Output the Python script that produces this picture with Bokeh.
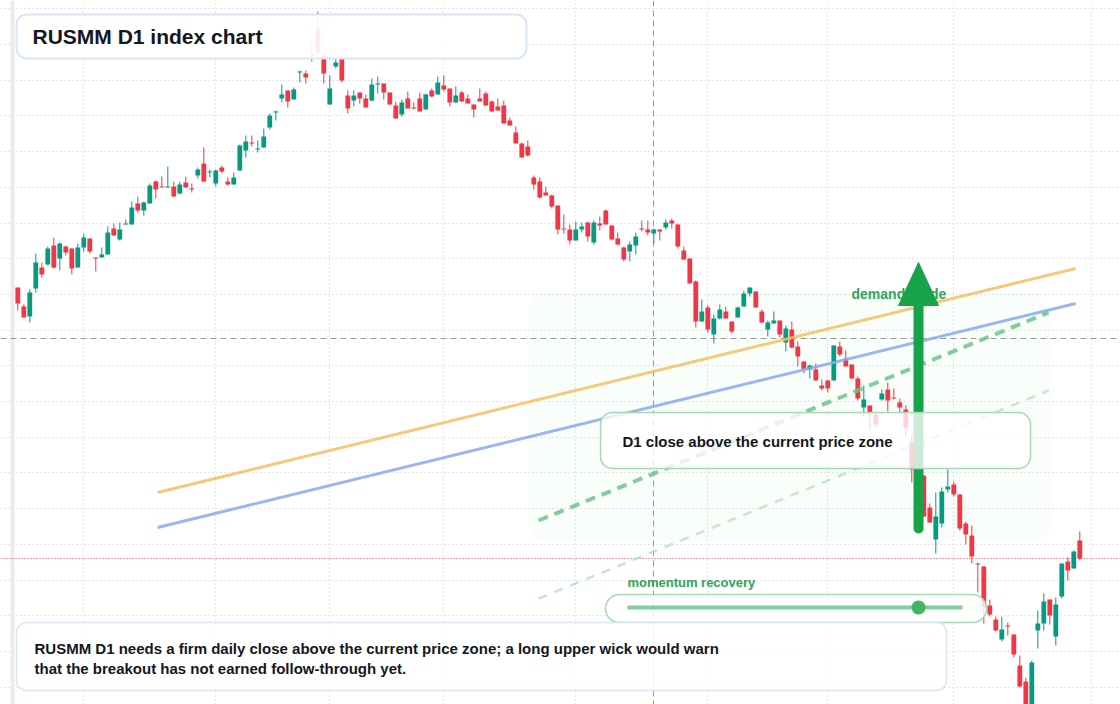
import numpy as np
import pandas as pd
from bokeh.plotting import figure
from bokeh.models import Range1d, FixedTicker, BoxAnnotation, Label, ColumnDataSource
from bokeh.core.properties import value
from bokeh.embed import file_html
from bokeh.resources import INLINE

# daily candles (index points)
opens = [713, 694, 684, 712, 733, 736, 755, 742, 754, 752, 733, 753, 762, 743, 743, 746, 772, 761, 776, 776,
         797, 790, 797, 819, 814, 813, 814, 807, 818, 812, 825, 837, 828, 817, 833, 819, 816, 830, 850, 858,
         851, 853, 873, 888, 902, 910, 901, 928, 927, 946, 972, 945, 896, 934, 943, 905, 900, 908, 902, 900,
         916, 917, 908, 895, 886, 902, 893, 902, 891, 910, 906, 915, 912, 898, 908, 902, 896, 902, 907, 899,
         894, 895, 880, 868, 857, 854, 823, 819, 808, 805, 795, 772, 771, 760, 771, 778, 758, 777, 790, 775,
         762, 753, 749, 755, 772, 771, 767, 771, 773, 780, 776, 750, 742, 719, 679, 693, 666, 682, 689, 679,
         683, 694, 707, 709, 689, 671, 677, 680, 658, 671, 654, 639, 631, 631, 615, 620, 620, 654, 642, 636,
         622, 593, 595, 586, 601, 611, 603, 598, 591, 558, 531, 525, 493, 461, 477, 511, 516, 506, 477, 465,
         437, 434, 395, 381, 361, 375, 366, 335, 319, 286, 370, 377, 401, 364, 404, 439, 432, 460]
highs = [713, 696, 711, 747, 738, 754, 763, 758, 755, 752, 757, 767, 762, 743, 753, 774, 777, 778, 781, 799,
         804, 799, 817, 820, 824, 834, 819, 819, 824, 817, 833, 853, 831, 831, 835, 823, 828, 856, 865, 865,
         860, 872, 887, 890, 916, 910, 913, 930, 930, 957, 989, 947, 925, 942, 950, 910, 910, 908, 906, 922,
         924, 917, 908, 899, 901, 909, 898, 908, 907, 912, 924, 925, 912, 914, 910, 906, 896, 912, 909, 900,
         902, 900, 883, 874, 858, 860, 825, 823, 814, 806, 795, 786, 776, 779, 778, 779, 780, 784, 791, 775,
         768, 754, 759, 768, 780, 780, 772, 771, 781, 782, 777, 754, 742, 720, 701, 695, 686, 696, 694, 679,
         694, 710, 713, 709, 691, 680, 689, 680, 675, 679, 659, 639, 636, 637, 621, 620, 655, 659, 650, 636,
         624, 615, 595, 588, 611, 618, 612, 602, 595, 566, 534, 525, 497, 508, 513, 531, 519, 506, 479, 475,
         438, 434, 401, 384, 384, 378, 366, 345, 323, 340, 390, 407, 401, 403, 437, 443, 450, 469]
lows = [690, 683, 678, 708, 723, 735, 732, 730, 745, 726, 733, 749, 747, 729, 743, 746, 765, 760, 776, 776,
        788, 785, 797, 802, 813, 813, 804, 806, 813, 808, 822, 819, 823, 814, 827, 815, 816, 830, 843, 854,
        848, 853, 871, 880, 898, 893, 901, 918, 917, 939, 947, 917, 896, 932, 918, 887, 894, 897, 893, 899,
        907, 901, 896, 882, 884, 892, 891, 889, 891, 903, 906, 909, 894, 898, 899, 897, 883, 899, 895, 889,
        890, 877, 875, 857, 843, 844, 811, 802, 805, 792, 766, 767, 756, 760, 768, 759, 756, 770, 776, 760,
        755, 739, 739, 746, 769, 765, 757, 760, 771, 772, 752, 741, 717, 673, 679, 668, 657, 681, 682, 667,
        683, 694, 704, 693, 677, 664, 677, 663, 649, 652, 634, 627, 622, 620, 610, 608, 620, 644, 634, 622,
        600, 584, 571, 573, 600, 589, 601, 588, 565, 518, 515, 484, 478, 447, 473, 508, 504, 470, 456, 437,
        408, 377, 384, 369, 359, 365, 343, 313, 284, 282, 352, 370, 376, 355, 402, 420, 432, 440]
closes = [697, 683, 708, 738, 726, 752, 733, 757, 748, 732, 753, 763, 749, 742, 746, 768, 765, 771, 777, 793,
          790, 798, 815, 811, 813, 814, 804, 816, 813, 811, 831, 819, 829, 830, 829, 816, 823, 855, 859, 857,
          852, 864, 885, 889, 906, 899, 911, 929, 923, 945, 948, 927, 912, 938, 920, 892, 905, 902, 893, 916,
          917, 908, 896, 882, 898, 892, 892, 889, 906, 904, 918, 911, 898, 905, 899, 897, 891, 899, 895, 889,
          890, 877, 875, 857, 843, 845, 816, 803, 805, 794, 771, 771, 760, 771, 774, 764, 778, 775, 776, 761,
          756, 741, 756, 764, 771, 768, 771, 769, 778, 777, 754, 741, 717, 679, 689, 671, 682, 691, 682, 669,
          693, 707, 713, 693, 678, 678, 680, 666, 672, 653, 644, 631, 635, 620, 612, 612, 655, 646, 634, 622,
          602, 601, 587, 576, 607, 600, 602, 593, 573, 531, 522, 484, 478, 484, 509, 514, 506, 472, 466, 444,
          436, 394, 386, 370, 371, 374, 346, 314, 288, 338, 377, 399, 385, 396, 437, 430, 449, 442]

# month separators (candle index) and price grid levels
x_grid = [11, 33, 52, 71, 93, 115, 135, 156, 179]
y_grid = [991.7, 956.0, 920.3, 884.6, 848.9, 813.2, 777.5, 741.8, 706.1, 670.4,
          634.7, 599.0, 563.3, 527.6, 491.9, 456.2, 420.5, 384.8, 349.1, 313.4]

# drawn studies: (index, price) end points
orange_x, orange_y = [23.3, 176.3], [508, 732]
blue_x, blue_y = [23.3, 176.3], [473, 697]
dash_x, dash_y = [86.8, 171.8], [480, 688]
faint_x, faint_y = [86.8, 171.8], [402, 610]
zone = dict(left=85.0, right=172.1, top=707, bottom=460)
cross_x, cross_y = 106, 662
arrow_x, arrow_bottom, arrow_base, arrow_tip, arrow_half = 150.12, 472, 695, 738, 3.33
momentum_x, momentum_y, momentum_dot = [101.6, 157.45], 393, 150.12

GREEN = "#089981"
RED = "#f23645"
INK = "#131722"
LABEL_GREEN = "#2ea55a"
NOTE_BORDER = "#a3dab4"
INFO_BORDER = "#d8e6fa"
FONT = "Liberation Sans"

df = pd.DataFrame(dict(i=np.arange(len(opens)), open=opens, high=highs, low=lows, close=closes))
df["color"] = np.where(df["close"] >= df["open"], GREEN, RED)
df["top"] = df[["open", "close"]].max(axis=1)
df["bottom"] = df[["open", "close"]].min(axis=1)
src = ColumnDataSource(df)

p = figure(width=1120, height=704, x_range=Range1d(-2.883, 183.783), y_range=Range1d(296, 1000),
           x_axis_location=None, y_axis_location=None, toolbar_location=None,
           output_backend="svg", min_border=0, outline_line_color=None)
p.xgrid.ticker = FixedTicker(ticks=x_grid)
p.ygrid.ticker = FixedTicker(ticks=y_grid)
p.grid.grid_line_color = "#c8c8c8"
p.grid.grid_line_dash = "1 3"

p.add_layout(BoxAnnotation(left=-1.22, right=-0.55, fill_color="#ebebeb", fill_alpha=1,
                           line_color=None, level="underlay"))
p.add_layout(BoxAnnotation(**zone, fill_color="#22c55e", fill_alpha=0.025, line_color=None,
                           border_radius=16, level="underlay"))

# crosshair and last-close line
p.vspan(x=[cross_x], line_color="#999999", line_width=1, line_dash="6 4")
p.hspan(y=[cross_y], line_color="#999999", line_width=1, line_dash="6 4")
p.hspan(y=[closes[-1]], line_color=RED, line_width=1, line_dash="1 2")

p.segment(x0="i", y0="high", x1="i", y1="low", color="color", line_width=1, source=src)
p.vbar(x="i", width=0.8, top="top", bottom="bottom", fill_color="color", line_color=None, source=src)

p.line(orange_x, orange_y, line_color="#f5c060", line_width=3, line_alpha=0.85)
p.line(blue_x, blue_y, line_color="#86a9f0", line_width=3, line_alpha=0.85)
p.line(dash_x, dash_y, line_color="#6cc58a", line_width=4, line_alpha=0.85, line_dash="10 7")
p.line(faint_x, faint_y, line_color="#a8e0ba", line_width=2.5, line_alpha=0.7, line_dash="9 8")

p.text(x=[138.95], y=[707], text=["demand guide"], text_font=value(FONT), text_font_style="bold",
       text_font_size="14px", text_color=LABEL_GREEN, text_baseline="middle")
p.segment(x0=[arrow_x], y0=[arrow_bottom], x1=[arrow_x], y1=[arrow_base], line_color="#16a34a",
          line_width=10, line_cap="round")
p.patch([arrow_x - arrow_half, arrow_x, arrow_x + arrow_half], [arrow_base, arrow_tip, arrow_base],
        fill_color="#16a34a", line_color="#16a34a")

# title
p.add_layout(BoxAnnotation(left=-0.22, right=84.78, top=986, bottom=942, fill_color="white", fill_alpha=0.9,
                           line_color=INFO_BORDER, line_alpha=1, line_width=2, border_radius=10))
p.add_layout(Label(x=2.45, y=964, text="RUSMM D1 index chart", text_font=FONT, text_font_style="bold",
                   text_font_size="21px", text_color=INK, text_baseline="middle"))

# zone note
p.add_layout(BoxAnnotation(left=97.12, right=168.78, top=588, bottom=532, fill_color="white", fill_alpha=0.78,
                           line_color=NOTE_BORDER, line_alpha=1, line_width=1.5, border_radius=12))
p.add_layout(Label(x=100.78, y=559, text="D1 close above the current price zone", text_font=FONT,
                   text_font_style="bold", text_font_size="15px", text_color=INK, text_baseline="middle"))

# momentum gauge
p.add_layout(BoxAnnotation(left=97.95, right=161.45, top=406, bottom=378, fill_color="white", fill_alpha=0.8,
                           line_color=NOTE_BORDER, line_alpha=1, line_width=1.5, border_radius=14))
p.add_layout(Label(x=101.6, y=418, text="momentum recovery", text_font=FONT, text_font_style="bold",
                   text_font_size="13px", text_color=LABEL_GREEN, text_baseline="middle"))
r = p.line(momentum_x, [momentum_y, momentum_y], line_color="#82cf9a", line_width=4)
r.level = "overlay"
r = p.scatter([momentum_dot], [momentum_y], size=14, fill_color="#3fb565", line_color=None)
r.level = "overlay"

# commentary
p.add_layout(BoxAnnotation(left=-0.22, right=154.78, top=378, bottom=310, fill_color="white", fill_alpha=0.85,
                           line_color=INFO_BORDER, line_alpha=1, line_width=1.5, border_radius=10))
p.add_layout(Label(x=2.78, y=352, text="RUSMM D1 needs a firm daily close above the current price zone; "
                   "a long upper wick would warn", text_font=FONT, text_font_style="bold",
                   text_font_size="15px", text_color=INK, text_baseline="middle"))
p.add_layout(Label(x=2.78, y=332, text="that the breakout has not earned follow-through yet.", text_font=FONT,
                   text_font_style="bold", text_font_size="15px", text_color=INK, text_baseline="middle"))

open("out.html", "w").write(file_html(p, INLINE))
